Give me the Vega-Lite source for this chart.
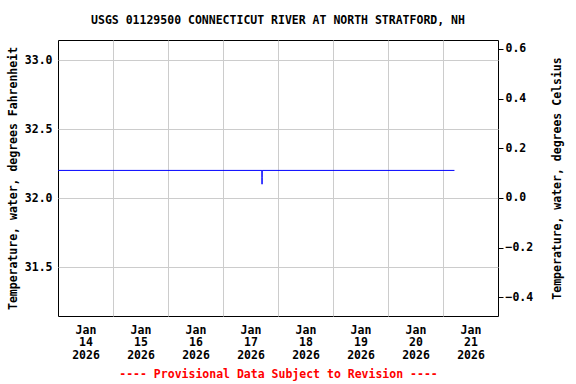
{
  "$schema": "https://vega.github.io/schema/vega-lite/v6.json",
  "width": 440,
  "height": 276,
  "autosize": {"type": "none"},
  "padding": {"left": 58, "top": 40, "right": 78, "bottom": 68},
  "background": "white",
  "config": {
    "font": "DejaVu Sans Mono",
    "view": {"stroke": "black", "strokeWidth": 1},
    "axis": {
      "labelFont": "DejaVu Sans Mono",
      "titleFont": "DejaVu Sans Mono",
      "labelFontWeight": "bold",
      "titleFontWeight": "bold",
      "labelFontSize": 11.5,
      "titleFontSize": 11.5,
      "labelColor": "black",
      "titleColor": "black",
      "gridColor": "#cccccc",
      "gridWidth": 1,
      "gridOpacity": 1
    },
    "title": {"font": "DejaVu Sans Mono", "fontWeight": "bold", "fontSize": 11.5, "color": "black"}
  },
  "title": {"text": "USGS 01129500 CONNECTICUT RIVER AT NORTH STRATFORD, NH", "anchor": "middle", "offset": 14},
  "datasets": {
    "f": [
      {"time": "2026-01-14T00:00:00", "tempF": 32.2},
      {"time": "2026-01-17T16:58:00", "tempF": 32.2},
      {"time": "2026-01-17T17:00:00", "tempF": 32.15},
      {"time": "2026-01-17T17:02:00", "tempF": 32.1},
      {"time": "2026-01-17T17:04:00", "tempF": 32.15},
      {"time": "2026-01-17T17:06:00", "tempF": 32.2},
      {"time": "2026-01-21T05:00:00", "tempF": 32.2}
    ],
    "c": [
      {"time": "2026-01-14T00:00:00", "tempC": 0.111},
      {"time": "2026-01-21T05:00:00", "tempC": 0.111}
    ]
  },
  "layer": [
    {
      "data": {"name": "c"},
      "mark": {"type": "line", "opacity": 0},
      "encoding": {
        "x": {
          "field": "time", "type": "temporal",
          "scale": {"domain": [{"year": 2026, "month": 1, "date": 14}, {"year": 2026, "month": 1, "date": 22}]},
          "axis": {
            "orient": "bottom",
            "values": [
              {"year": 2026, "month": 1, "date": 15}, {"year": 2026, "month": 1, "date": 16},
              {"year": 2026, "month": 1, "date": 17}, {"year": 2026, "month": 1, "date": 18},
              {"year": 2026, "month": 1, "date": 19}, {"year": 2026, "month": 1, "date": 20},
              {"year": 2026, "month": 1, "date": 21}
            ],
            "grid": true, "labels": false, "ticks": false, "domain": false, "title": null
          }
        },
        "y": {
          "field": "tempC", "type": "quantitative",
          "scale": {"domain": [-0.475, 0.636], "nice": false, "zero": false},
          "axis": {
            "orient": "right",
            "values": [-0.4, -0.2, 0, 0.2, 0.4, 0.6],
            "format": ".1f",
            "grid": false,
            "domain": false,
            "ticks": true, "tickSize": 5, "tickColor": "black",
            "labelPadding": 2,
            "title": "Temperature, water, degrees Celsius",
            "titleAngle": 270,
            "titlePadding": 30
          }
        }
      }
    },
    {
      "data": {"name": "f"},
      "mark": {"type": "line", "color": "#0000ff", "strokeWidth": 1, "interpolate": "linear"},
      "encoding": {
        "x": {
          "field": "time", "type": "temporal",
          "scale": {"domain": [{"year": 2026, "month": 1, "date": 14}, {"year": 2026, "month": 1, "date": 22}]},
          "axis": {
            "orient": "bottom",
            "values": [
              {"year": 2026, "month": 1, "date": 14, "hours": 12}, {"year": 2026, "month": 1, "date": 15, "hours": 12},
              {"year": 2026, "month": 1, "date": 16, "hours": 12}, {"year": 2026, "month": 1, "date": 17, "hours": 12},
              {"year": 2026, "month": 1, "date": 18, "hours": 12}, {"year": 2026, "month": 1, "date": 19, "hours": 12},
              {"year": 2026, "month": 1, "date": 20, "hours": 12}, {"year": 2026, "month": 1, "date": 21, "hours": 12}
            ],
            "labelExpr": "[timeFormat(datum.value, '%b'), timeFormat(datum.value, '%d'), timeFormat(datum.value, '%Y')]",
            "labelLineHeight": 12.5,
            "labelPadding": 8,
            "grid": false, "ticks": false, "tickSize": 0, "domain": false,
            "title": "---- Provisional Data Subject to Revision ----",
            "titleColor": "red",
            "titlePadding": 8
          }
        },
        "y": {
          "field": "tempF", "type": "quantitative",
          "scale": {"domain": [31.145, 33.145], "nice": false, "zero": false},
          "axis": {
            "orient": "left",
            "values": [31.5, 32.0, 32.5, 33.0],
            "format": ".1f",
            "grid": true,
            "ticks": false, "tickSize": 0, "domain": false,
            "labelPadding": 6,
            "title": "Temperature, water, degrees Fahrenheit",
            "titlePadding": 6
          }
        }
      }
    }
  ],
  "resolve": {"scale": {"y": "independent"}, "axis": {"x": "independent", "y": "independent"}}
}
